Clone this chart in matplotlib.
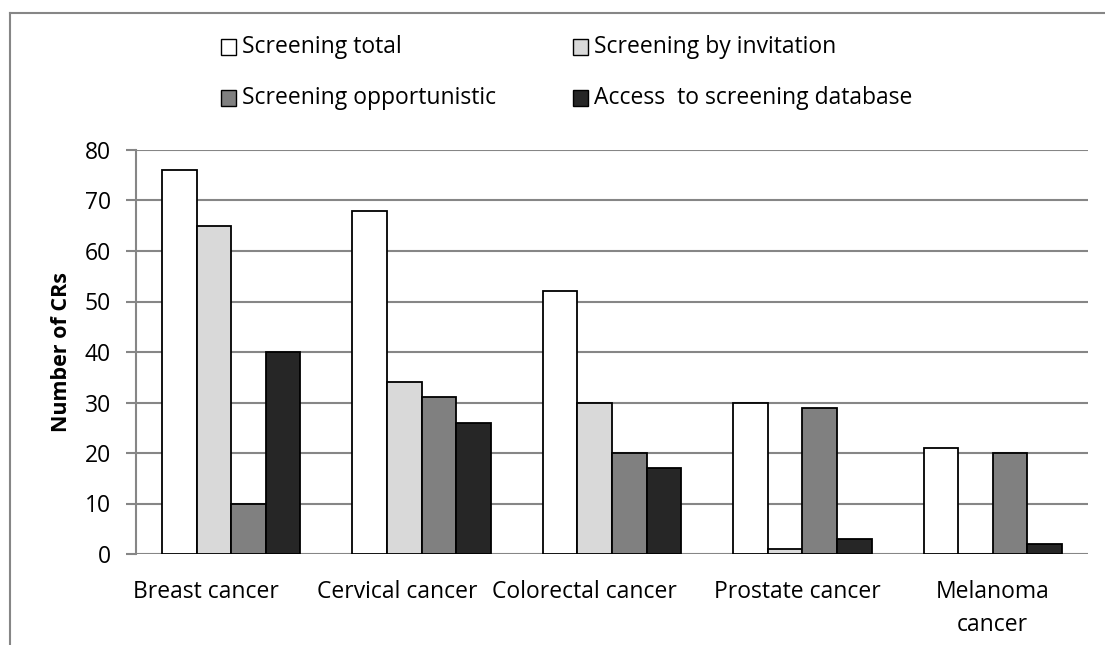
import matplotlib
matplotlib.use("Agg")
import matplotlib.pyplot as plt
import matplotlib.transforms as mtransforms
import numpy as np
from matplotlib.patches import Rectangle
from matplotlib.lines import Line2D

categories = ["Breast cancer", "Cervical cancer", "Colorectal cancer",
              "Prostate cancer", "Melanoma\ncancer"]
series_names = ["Screening total", "Screening by invitation",
                "Screening opportunistic", "Access  to screening database"]
screening_total = [76, 68, 52, 30, 21]
screening_invitation = [65, 34, 30, 1, 0]
screening_opportunistic = [10, 31, 20, 29, 20]
screening_database = [40, 26, 17, 3, 2]
series_values = [screening_total, screening_invitation,
                 screening_opportunistic, screening_database]
colors = ["#ffffff", "#d9d9d9", "#808080", "#262626"]
y_ticks = [0, 10, 20, 30, 40, 50, 60, 70, 80]

plt.rcParams["font.family"] = ["Open Sans", "DejaVu Sans"]
FS = 16.5

W, H = 1105, 645
DPI = 100
fig = plt.figure(figsize=(W / DPI, H / DPI), dpi=DPI)
ax = fig.add_axes([136 / W, 1 - 554 / H, (1088 - 136) / W, (554 - 150) / H])

grid_c = "#868686"
x = np.arange(len(categories))
n = len(series_values)
gap = 1.5
bw = 1.0 / (n + gap)
for i, vals in enumerate(series_values):
    offs = (i - (n - 1) / 2) * bw
    ax.bar(x + offs, vals, width=bw, color=colors[i], edgecolor="black",
           linewidth=1.3, zorder=3)

ax.set_xlim(-0.5, len(categories) - 0.5)
ax.set_ylim(0, 80)
ax.set_yticks(y_ticks)
ax.yaxis.grid(True, color=grid_c, linewidth=1.5, zorder=0)
ax.set_axisbelow(True)
for s in ["top", "right", "bottom"]:
    ax.spines[s].set_visible(False)
ax.spines["left"].set_color(grid_c)
ax.spines["left"].set_linewidth(1.5)
ax.tick_params(axis="y", length=7, width=1.5, color=grid_c, pad=11,
               labelsize=FS, labelcolor="black")
ax.set_xticks(x)
ax.set_xticklabels([])
ax.tick_params(axis="x", length=0)

# category labels below the axis, nudged sideways in pixels
label_shift_px = [-25, -24, -28, -5, 0]
base = mtransforms.blended_transform_factory(ax.transData, ax.transAxes)
for xi, lab, dx in zip(x, categories, label_shift_px):
    tr = base + mtransforms.ScaledTranslation(dx / DPI, -26 / DPI, fig.dpi_scale_trans)
    ax.text(xi, 0, lab, transform=tr, ha="center", va="top", fontsize=FS,
            linespacing=1.5, multialignment="center")

ax.set_ylabel("Number of CRs", fontsize=15.5, fontweight="bold", labelpad=9)

# legend entries in two rows of two
leg_x = [221, 573]
leg_y = [47, 98]
sq = 15
for i, name in enumerate(series_names):
    r, c = divmod(i, 2)
    x0, yc = leg_x[c], leg_y[r]
    fig.patches.append(Rectangle((x0 / W, 1 - (yc + sq / 2) / H), sq / W, sq / H,
                                 transform=fig.transFigure, facecolor=colors[i],
                                 edgecolor="black", linewidth=1.0))
    fig.text((x0 + sq + 6) / W, 1 - yc / H, name, fontsize=FS,
             va="center", ha="left")

# outer frame (left and top edges)
fig.add_artist(Line2D([10 / W, 10 / W], [0, 1 - 13 / H], transform=fig.transFigure,
                      color=grid_c, linewidth=1.5))
fig.add_artist(Line2D([10 / W, 1], [1 - 13 / H, 1 - 13 / H], transform=fig.transFigure,
                      color=grid_c, linewidth=1.5))

fig.savefig("out.png", dpi=DPI, facecolor="white")
